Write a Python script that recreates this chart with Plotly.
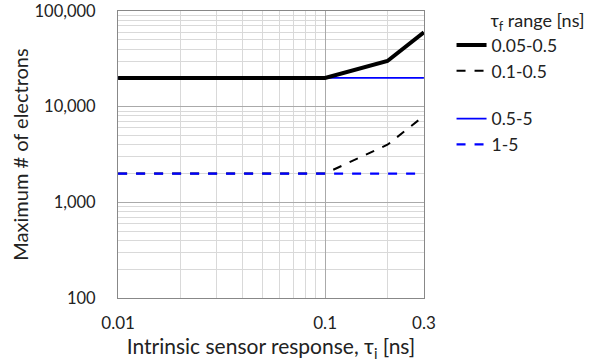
import math
import plotly.graph_objects as go

tau_i = [0.01, 0.1, 0.2, 0.3]
s_005_05 = [20000, 20000, 30000, 60000]
s_01_05 = [2000, 2000, 4000, 8000]
s_05_5 = [20000, 20000, 20000, 20000]
s_1_5 = [2000, 2000, 2000, 2000]

x_ticks = [0.01, 0.1, 0.3]
x_ticktext = ["0.01", "0.1", "0.3"]
y_ticks = [100, 1000, 10000, 100000]
y_ticktext = ["100", "1,000", "10,000", "100,000"]

x_minor = [0.02, 0.03, 0.04, 0.05, 0.06, 0.07, 0.08, 0.09, 0.2]
y_minor = [m * 10 ** e for e in (2, 3, 4) for m in range(2, 10)]

FONT = "Lato"
fig = go.Figure()
fig.add_trace(go.Scatter(x=tau_i, y=s_05_5, mode="lines", name="0.5-5",
                         line=dict(color="#0000ff", width=1.8), legendgroup="b", legendrank=3))
fig.add_trace(go.Scatter(x=tau_i, y=s_01_05, mode="lines", name="0.1-0.5",
                         line=dict(color="black", width=2, dash="dash"), legendgroup="a", legendrank=2))
fig.add_trace(go.Scatter(x=tau_i, y=s_1_5, mode="lines", name="1-5",
                         line=dict(color="#0000ff", width=2.2, dash="dash"), legendgroup="b", legendrank=4))
fig.add_trace(go.Scatter(x=tau_i, y=s_005_05, mode="lines", name="0.05-0.5",
                         line=dict(color="black", width=4), legendgroup="a", legendrank=1))

fig.update_layout(
    width=607, height=364,
    margin=dict(l=118, r=183, t=11, b=66, autoexpand=False),
    paper_bgcolor="white", plot_bgcolor="white",
    font=dict(family=FONT, size=19, color="#222"),
    showlegend=True,
    legend=dict(
        x=1.09, xanchor="left", y=1.025, yanchor="top",
        title=dict(text="\u00a0\u00a0\u00a0\u00a0\u00a0\u00a0\u00a0\u00a0τ<sub>f</sub> range [ns]", font=dict(size=18)),
        font=dict(size=17.5), traceorder="grouped", tracegroupgap=22,
        itemwidth=30, bgcolor="rgba(0,0,0,0)",
    ),
)
fig.update_xaxes(
    type="log", range=[-2.0005, math.log10(0.3) + 0.0005],
    tickvals=x_ticks, ticktext=x_ticktext, ticks="",
    tickfont=dict(size=17),
    showgrid=True, gridcolor="#aaaaaa", gridwidth=1,
    minor=dict(tickvals=x_minor, showgrid=True, gridcolor="#d9d9d9", gridwidth=1),
    showline=True, linecolor="#888888", mirror=True, linewidth=1,
    ticklabelstandoff=10, ticklabeloverflow="allow", automargin=False,
    title=dict(text="Intrinsic sensor response, τ<sub>i</sub> [ns]", font=dict(size=21), standoff=0),
    zeroline=False,
)
fig.update_yaxes(
    type="log", range=[1.9995, 5.0005],
    tickvals=y_ticks, ticktext=y_ticktext, ticks="",
    tickfont=dict(size=16.5),
    showgrid=True, gridcolor="#aaaaaa", gridwidth=1,
    minor=dict(tickvals=y_minor, showgrid=True, gridcolor="#d9d9d9", gridwidth=1),
    showline=True, linecolor="#888888", mirror=True, linewidth=1,
    ticklabelstandoff=18, ticklabeloverflow="allow", automargin=False,
    title=dict(text="Maximum # of electrons", font=dict(size=20), standoff=0),
    zeroline=False,
)
fig.write_html("out.html", config={"displayModeBar": False},
               post_script="document.body.style.margin='0';")
